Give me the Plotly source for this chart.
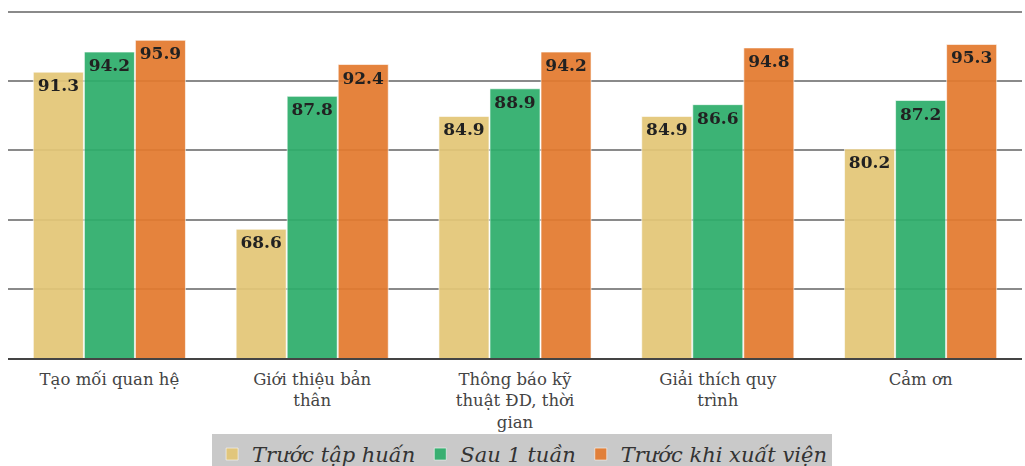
import plotly.graph_objects as go

categories = ["Tạo mối quan hệ", "Giới thiệu bản<br>thân", "Thông báo kỹ<br>thuật ĐD, thời<br>gian",
              "Giải thích quy<br>trình", "Cảm ơn"]
series_names = ["Trước tập huấn", "Sau 1 tuần", "Trước khi xuất viện"]
truoc_tap_huan = [91.3, 68.6, 84.9, 84.9, 80.2]
sau_1_tuan = [94.2, 87.8, 88.9, 86.6, 87.2]
truoc_xuat_vien = [95.9, 92.4, 94.2, 94.8, 95.3]
colors = ["#E3C677", "#2EAE6B", "#E37A2F"]

SERIF = "DejaVu Serif"

fig = go.Figure()
for name, vals, col in zip(series_names, [truoc_tap_huan, sau_1_tuan, truoc_xuat_vien], colors):
    fig.add_trace(go.Bar(
        x=categories, y=vals, name=name,
        marker=dict(color=col, line=dict(width=1, color="rgba(255,255,255,0.6)")),
        opacity=0.93,
        text=[f"{v:.1f}" for v in vals],
        textposition="inside", insidetextanchor="end",
        textfont=dict(family=SERIF, size=17, color="#111", weight="bold"),
        constraintext="none", cliponaxis=False,
    ))

fig.update_layout(
    width=1025, height=466,
    margin=dict(l=8, r=3, t=5, b=108, autoexpand=False),
    paper_bgcolor="white", plot_bgcolor="white",
    barmode="group", bargap=0.245, bargroupgap=0.02,
    font=dict(family=SERIF, size=16.5, color="#444"),
    showlegend=True,
    legend=dict(orientation="h", x=0.507, xanchor="center", y=-0.215, yanchor="top",
                bgcolor="#C9C9C9", font=dict(family=SERIF, size=21, color="#333", style="italic"),
                itemwidth=30, traceorder="normal"),
    xaxis=dict(showline=True, linecolor="#444", linewidth=2, ticks="", ticklabelstandoff=5,
               tickfont=dict(size=16.5, color="#444"), automargin=False),
    yaxis=dict(range=[50, 101], tickvals=[50, 60, 70, 80, 90, 100], showticklabels=False, showgrid=True,
               gridcolor="#8A8A8A", gridwidth=1.5, zeroline=False, automargin=False),
)
fig.write_html("out.html")
